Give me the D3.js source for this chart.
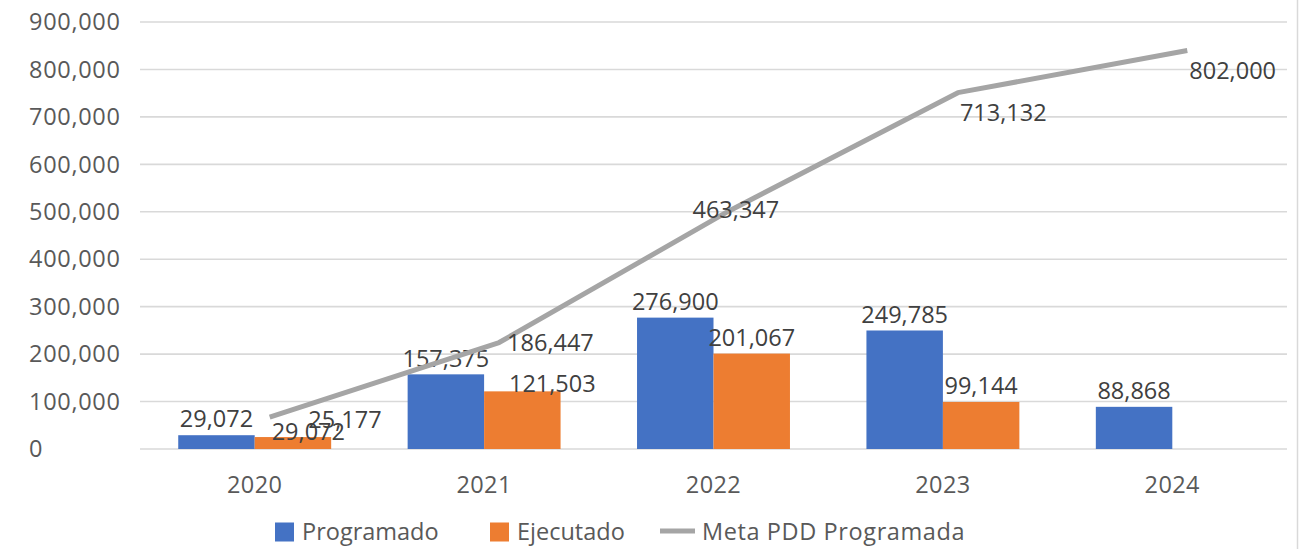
<!DOCTYPE html>
<html>
<head>
<meta charset="utf-8">
<script src="https://cdn.jsdelivr.net/npm/d3@7"></script>
<style>
  html, body { margin: 0; padding: 0; background: #ffffff; }
  svg { display: block; font-family: "Open Sans", "Noto Sans", sans-serif; }
</style>
</head>
<body>
<svg id="chart" width="1313" height="549"></svg>
<script>
// Series data
const years = ["2020", "2021", "2022", "2023", "2024"];
const programado = [29072, 157375, 276900, 249785, 88868];
const ejecutado = [25177, 121503, 201067, 99144, null];
const metaPDD = [29072, 186447, 463347, 713132, 802000];
const yTickValues = [0, 100000, 200000, 300000, 400000, 500000, 600000, 700000, 800000, 900000];
const seriesNames = ["Programado", "Ejecutado", "Meta PDD Programada"];

// Styling and layout
const colors = { Programado: "#4472C4", Ejecutado: "#ED7D31", Meta: "#A5A5A5" };
const plot = { left: 140, right: 1287, top: 22, bottom: 449 };
const fontSize = 23.5;
const fmt = d3.format(",");

// Hand-placed label nudges (dx, dy) per year
const ejecutadoNudge = [[52, -1], [30, 8], [0, 0], [0, 0], [0, 0]];
const metaNudge = [[0, -5], [6, -20], [-38, -21], [0, 0], [0, 0]];
const lineShift = [15, -18];

const svg = d3.select("#chart");
svg.append("rect").attr("width", 1313).attr("height", 549).attr("fill", "#ffffff");

const x0 = d3.scaleBand().domain(years).range([plot.left, plot.right]).padding(0);
const x1 = d3.scaleBand().domain(["Programado", "Ejecutado"])
  .range([0, x0.bandwidth()]).paddingInner(0).paddingOuter(0.5);
const y = d3.scaleLinear().domain([0, 900000]).range([plot.bottom, plot.top]);

// Gridlines
svg.append("g").selectAll("line").data(yTickValues).join("line")
  .attr("x1", plot.left).attr("x2", plot.right)
  .attr("y1", d => y(d)).attr("y2", d => y(d))
  .attr("stroke", "#D9D9D9").attr("stroke-width", 1.6);

// Y tick labels
svg.append("g").selectAll("text").data(yTickValues).join("text")
  .attr("x", 29).attr("y", d => y(d)).attr("dy", "0.35em")
  .attr("font-size", fontSize).attr("letter-spacing", 0.7).attr("fill", "#595959")
  .text(d => fmt(d));

// X category labels
svg.append("g").selectAll("text").data(years).join("text")
  .attr("x", d => x0(d) + x0.bandwidth() / 2).attr("y", 485).attr("dy", "0.35em")
  .attr("text-anchor", "middle").attr("font-size", fontSize).attr("letter-spacing", 0.4)
  .attr("fill", "#595959")
  .text(d => d);

// Bars
const barData = [];
years.forEach((yr, i) => {
  barData.push({ year: yr, key: "Programado", value: programado[i], i });
  if (ejecutado[i] != null) barData.push({ year: yr, key: "Ejecutado", value: ejecutado[i], i });
});
svg.append("g").selectAll("rect").data(barData).join("rect")
  .attr("x", d => x0(d.year) + x1(d.key))
  .attr("width", x1.bandwidth())
  .attr("y", d => y(d.value))
  .attr("height", d => y(0) - y(d.value))
  .attr("fill", d => colors[d.key]);

// Bar value labels
svg.append("g").selectAll("text").data(barData).join("text")
  .attr("x", d => x0(d.year) + x1(d.key) + x1.bandwidth() / 2 + (d.key === "Ejecutado" ? ejecutadoNudge[d.i][0] : 0))
  .attr("y", d => y(d.value) - 16 + (d.key === "Ejecutado" ? ejecutadoNudge[d.i][1] : 0))
  .attr("dy", "0.35em").attr("text-anchor", "middle")
  .attr("font-size", fontSize).attr("fill", "#404040")
  .text(d => fmt(d.value));

// Meta PDD line
const lineData = years.map((yr, i) => ({ year: yr, value: metaPDD[i], i }));
const line = d3.line()
  .x(d => x0(d.year) + x0.bandwidth() / 2)
  .y(d => y(d.value));
svg.append("path").datum(lineData)
  .attr("transform", `translate(${lineShift[0]},${lineShift[1]})`)
  .attr("d", line).attr("fill", "none")
  .attr("stroke", colors.Meta).attr("stroke-width", 5)
  .attr("stroke-linejoin", "round").attr("stroke-linecap", "butt");

// Meta PDD labels (to the right of each point)
svg.append("g").selectAll("text").data(lineData).join("text")
  .attr("x", d => x0(d.year) + x0.bandwidth() / 2 + 17 + metaNudge[d.i][0])
  .attr("y", d => y(d.value) + 2 + metaNudge[d.i][1])
  .attr("dy", "0.35em").attr("font-size", fontSize).attr("fill", "#404040")
  .text(d => fmt(d.value));

// Legend
const legendX = [275, 490, 660];
const legend = svg.append("g");
seriesNames.forEach((name, i) => {
  const g = legend.append("g").attr("transform", `translate(${legendX[i]},532)`);
  if (i < 2) {
    g.append("rect").attr("x", 0).attr("y", -9.5).attr("width", 19).attr("height", 19)
      .attr("fill", i === 0 ? colors.Programado : colors.Ejecutado);
    g.append("text").attr("x", 27).attr("dy", "0.35em")
      .attr("font-size", fontSize).attr("fill", "#595959").text(name);
  } else {
    g.append("line").attr("x1", 0).attr("x2", 35).attr("y1", -1).attr("y2", -1)
      .attr("stroke", colors.Meta).attr("stroke-width", 5);
    g.append("text").attr("x", 42).attr("dy", "0.35em")
      .attr("font-size", fontSize).attr("letter-spacing", 0.6)
      .attr("fill", "#595959").text(name);
  }
});

// Chart area right border
svg.append("line").attr("x1", 1297.5).attr("x2", 1297.5).attr("y1", 0).attr("y2", 549)
  .attr("stroke", "#D9D9D9").attr("stroke-width", 1.5);
</script>
</body>
</html>
